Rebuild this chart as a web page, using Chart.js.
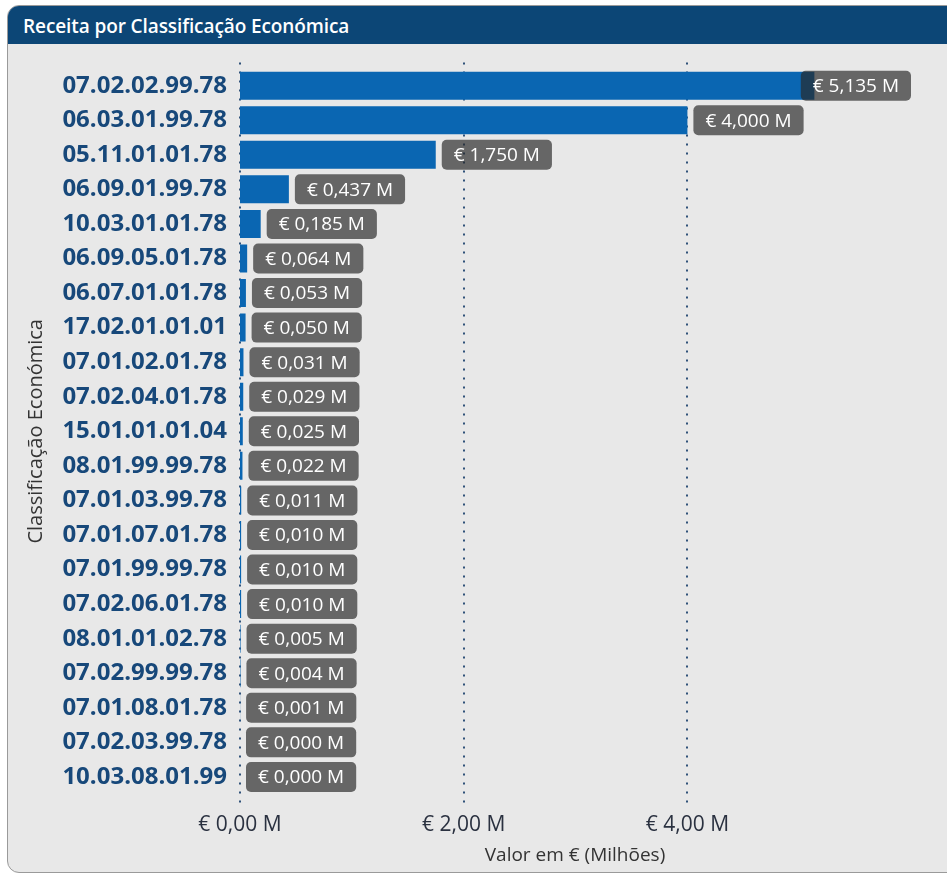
<!DOCTYPE html>
<html>
<head>
<meta charset="utf-8">
<script src="https://cdn.jsdelivr.net/npm/chart.js@4"></script>
<style>
  html, body { margin: 0; padding: 0; width: 947px; height: 875px; background: #ffffff; overflow: hidden; }
  #panel { position: absolute; left: 7px; top: 5px; width: 960px; height: 866px; background: #e8e8e8;
           border: 1px solid #9a9a9a; border-radius: 12px; overflow: hidden; }
  #header { position: absolute; left: 0; top: 0; right: 0; height: 38px; background: #0c4676; }
  #title { position: absolute; left: 15px; top: 7px; color: #ffffff; font-family: "Open Sans", sans-serif;
           font-size: 19px; font-weight: 600; letter-spacing: -0.1px; }
  #wrap { position: absolute; left: 0; top: 41px; width: 947px; height: 832px; }
</style>
</head>
<body>
<div id="panel"><div id="header"><div id="title">Receita por Classificação Económica</div></div></div>
<div id="wrap"><canvas id="c" width="947" height="832"></canvas></div>
<script>
const categories = [
  "07.02.02.99.78", "06.03.01.99.78", "05.11.01.01.78", "06.09.01.99.78", "10.03.01.01.78",
  "06.09.05.01.78", "06.07.01.01.78", "17.02.01.01.01", "07.01.02.01.78", "07.02.04.01.78",
  "15.01.01.01.04", "08.01.99.99.78", "07.01.03.99.78", "07.01.07.01.78", "07.01.99.99.78",
  "07.02.06.01.78", "08.01.01.02.78", "07.02.99.99.78", "07.01.08.01.78", "07.02.03.99.78",
  "10.03.08.01.99"
];
const valores = [
  5.135, 4.000, 1.750, 0.437, 0.185,
  0.064, 0.053, 0.050, 0.031, 0.029,
  0.025, 0.022, 0.011, 0.010, 0.010,
  0.010, 0.005, 0.004, 0.001, 0.000,
  0.000
];
const xTicks = [0, 2, 4];
const xTitle = "Valor em € (Milhões)";
const yTitle = "Classificação Económica";

function fmtLabel(v) { return "€ " + v.toFixed(3).replace(".", ",") + " M"; }
function fmtTick(v) { return "€ " + v.toFixed(2).replace(".", ",") + " M"; }

const gridPlugin = {
  id: "dottedGrid",
  beforeDatasetsDraw(chart) {
    const ctx = chart.ctx, xs = chart.scales.x, area = chart.chartArea;
    ctx.save();
    ctx.strokeStyle = "#2f5179";
    ctx.lineWidth = 2;
    ctx.setLineDash([2, 7]);
    xTicks.forEach(t => {
      const px = Math.round(xs.getPixelForValue(t));
      ctx.beginPath();
      ctx.moveTo(px, area.top - 6);
      ctx.lineTo(px, area.bottom + 10);
      ctx.stroke();
    });
    ctx.restore();
  }
};

const labelPlugin = {
  id: "boxLabels",
  afterDatasetsDraw(chart) {
    const ctx = chart.ctx, area = chart.chartArea;
    const meta = chart.getDatasetMeta(0);
    ctx.save();
    ctx.font = '19px "Open Sans", sans-serif';
    ctx.textBaseline = "middle";
    ctx.textAlign = "left";
    meta.data.forEach((bar, i) => {
      const txt = fmtLabel(valores[i]);
      const w = ctx.measureText(txt).width + 24;
      const h = 30;
      let x = bar.x + 6;
      if (x + w > area.right + 1) x = area.right + 1 - w;
      const y = bar.y - h / 2;
      ctx.fillStyle = "rgba(40,40,40,0.68)";
      ctx.beginPath();
      ctx.roundRect(x, y, w, h, 5);
      ctx.fill();
      ctx.fillStyle = "#ffffff";
      ctx.fillText(txt, x + 12, bar.y + 1);
    });
    ctx.restore();
  }
};

new Chart(document.getElementById("c"), {
  type: "bar",
  data: {
    labels: categories,
    datasets: [{
      data: valores,
      backgroundColor: "#0a66b2",
      borderWidth: 0,
      barPercentage: 1.0,
      categoryPercentage: 0.81
    }]
  },
  options: {
    indexAxis: "y",
    responsive: false,
    animation: false,
    devicePixelRatio: 1,
    layout: { padding: { left: 24, top: 21, right: 37, bottom: 6 } },
    plugins: { legend: { display: false }, tooltip: { enabled: false } },
    scales: {
      x: {
        min: 0,
        max: 5.99,
        afterBuildTicks(scale) { scale.ticks = xTicks.map(v => ({ value: v })); },
        grid: { display: false, drawTicks: false },
        border: { display: false },
        ticks: {
          padding: 20,
          color: "#2a3140",
          font: { family: "Open Sans", size: 21, lineHeight: 1.0 },
          callback: v => fmtTick(v)
        },
        title: {
          display: true,
          text: xTitle,
          color: "#333333",
          font: { family: "Open Sans", size: 19 },
          padding: { top: -11, bottom: 0 }
        }
      },
      y: {
        grid: { display: false, drawTicks: false },
        border: { display: false },
        afterFit(scale) { scale.width = 240 - 24; },
        ticks: {
          padding: 13,
          color: "#17487a",
          font: { family: "Open Sans", size: 24, weight: "bold" }
        },
        title: {
          display: true,
          text: yTitle,
          color: "#333333",
          font: { family: "Open Sans", size: 20 },
          padding: { top: 0, bottom: 0 }
        }
      }
    }
  },
  plugins: [gridPlugin, labelPlugin]
});
</script>
</body>
</html>
